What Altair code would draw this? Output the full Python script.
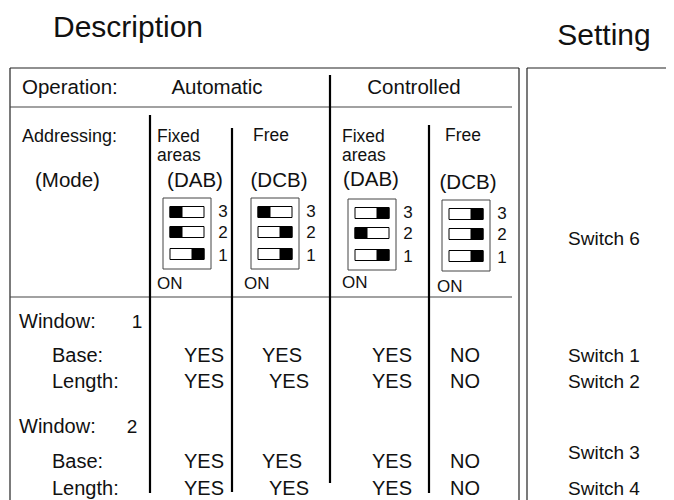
import altair as alt
import pandas as pd

# ---------------- content ----------------
TITLES = ["Description", "Setting"]
OPERATION_LABEL = "Operation:"
OPERATIONS = ["Automatic", "Controlled"]
ADDRESSING_LABEL = "Addressing:"
MODE_LABEL = "(Mode)"
ADDRESSING = ["Fixed areas", "Free", "Fixed areas", "Free"]
MODES = ["(DAB)", "(DCB)", "(DAB)", "(DCB)"]
SWITCH_NUMBERS = [3, 2, 1]
SWITCH_RIGHT = [[0, 0, 1], [0, 1, 1], [1, 0, 1], [1, 1, 1]]  # 1 = slider on right
ON_LABEL = "ON"
SWITCH6 = "Switch 6"
WINDOW_LABEL = "Window:"
WINDOWS = [1, 2]
ROW_LABELS = ["Base:", "Length:", "Base:", "Length:"]
VALUES = [
    ["YES", "YES", "YES", "NO"],
    ["YES", "YES", "YES", "NO"],
    ["YES", "YES", "YES", "NO"],
    ["YES", "YES", "YES", "NO"],
]
SETTINGS = ["Switch 1", "Switch 2", "Switch 3", "Switch 4"]

# ---------------- layout ----------------
W, H, M = 658, 492, 8
FONT = "Liberation Sans"
xs = alt.Scale(domain=[M, M + W], range=[0, W], nice=False, zero=False)
ys = alt.Scale(domain=[M, M + H], range=[0, H], nice=False, zero=False)

BOX_TOP = 68
BOTTOM = 505
LEFT, LEFT_R, RIGHT_L, RIGHT_R = 10, 519, 527, 690
SEP_END = 512
OP_Y, OP_LINE = 88, 107
HEAD_LINE = 297
COL_LINES = [(150, 115, 493), (232, 128, 492), (330, 75, 483), (429, 125, 493)]

lines = [
    (LEFT, LEFT_R, BOX_TOP, BOX_TOP, 1.2, "#222"),
    (RIGHT_L, RIGHT_R, BOX_TOP, BOX_TOP, 1.2, "#222"),
    (LEFT, LEFT, BOX_TOP, BOTTOM, 1.2, "#222"),
    (LEFT_R, LEFT_R, BOX_TOP, BOTTOM, 1.2, "#222"),
    (RIGHT_L, RIGHT_L, BOX_TOP, BOTTOM, 1.2, "#222"),
    (LEFT, SEP_END, OP_LINE, OP_LINE, 1.2, "#444"),
    (LEFT, SEP_END, HEAD_LINE, HEAD_LINE, 1.2, "#444"),
]
for cx, y1, y2 in COL_LINES:
    lines.append((cx, cx, y1, y2, 2.2, "#000"))
lines_df = pd.DataFrame(lines, columns=["x", "x2", "y", "y2", "w", "c"])

# switch blocks
BOX_X = [163, 251, 348, 442]
BOX_TOPS = [198, 198, 199, 200]
BOX_W, BOX_H = 48, 71
TOG_DX, TOG_W, TOG_H, KNOB_W = 7, 34, 11, 12
TOG_DY = [14, 34, 56]
NUM_DY = [14, 35, 58]
ON_X = [157, 244, 342, 437]
ON_Y = [284, 284, 283, 287]

rects = []
texts_left, texts_center = [], []
for i, (bx, bt) in enumerate(zip(BOX_X, BOX_TOPS)):
    rects.append((bx, bx + BOX_W, bt, bt + BOX_H, "#ffffff", "#444"))
    for k, num in enumerate(SWITCH_NUMBERS):
        cy = bt + TOG_DY[k]
        tx = bx + TOG_DX
        rects.append((tx, tx + TOG_W, cy - TOG_H / 2, cy + TOG_H / 2, "#ffffff", "#000"))
        if SWITCH_RIGHT[i][k]:
            rects.append((tx + TOG_W - KNOB_W, tx + TOG_W, cy - TOG_H / 2, cy + TOG_H / 2, "#000", "#000"))
        else:
            rects.append((tx, tx + KNOB_W, cy - TOG_H / 2, cy + TOG_H / 2, "#000", "#000"))
        texts_center.append((bx + BOX_W + 12, bt + NUM_DY[k], str(num), 17))
    texts_left.append((ON_X[i], ON_Y[i], ON_LABEL, 17))
rects_df = pd.DataFrame(rects, columns=["x", "x2", "y", "y2", "f", "s"])

# titles
texts_center.append((128, 28, TITLES[0], 30))
texts_center.append((604, 36, TITLES[1], 30))

# header rows
texts_left.append((22, OP_Y, OPERATION_LABEL, 20.5))
texts_center.append((217, OP_Y, OPERATIONS[0], 20.5))
texts_center.append((414, OP_Y, OPERATIONS[1], 20.5))
texts_left.append((22, 137, ADDRESSING_LABEL, 18))
texts_left.append((35, 181, MODE_LABEL, 20.5))

ADDR_X = [157, 253, 342, 445]
ADDR_Y = [137, 136, 137, 136]
MODE_X = [195, 279, 371, 468]
MODE_Y = [181, 181, 180, 183]
for i, a in enumerate(ADDRESSING):
    for j, part in enumerate(a.split(" ")):
        texts_left.append((ADDR_X[i], ADDR_Y[i] + 19 * j, part, 17.5))
    texts_center.append((MODE_X[i], MODE_Y[i], MODES[i], 20.5))

texts_center.append((604, 239, SWITCH6, 19))

# body rows
WIN_Y = [322, 427]
WIN_NUM_X = [137, 132]
for w, wy, wx in zip(WINDOWS, WIN_Y, WIN_NUM_X):
    texts_left.append((19, wy, WINDOW_LABEL, 20))
    texts_center.append((wx, wy, str(w), 19))

ROW_Y = [356, 382, 462, 489]
SET_Y = [356, 382, 453, 489]
COL_CX = [[204, 282, 392, 465], [204, 289, 392, 465], [204, 282, 392, 465], [204, 289, 392, 465]]
for r, (lab, ry) in enumerate(zip(ROW_LABELS, ROW_Y)):
    texts_left.append((52, ry, lab, 20))
    for c, v in enumerate(VALUES[r]):
        texts_center.append((COL_CX[r][c], ry, v, 20))
    texts_center.append((604, SET_Y[r], SETTINGS[r], 19))

cols = ["x", "y", "t", "fs"]
X = lambda f="x": alt.X(f"{f}:Q", scale=xs, axis=None)
Y = lambda f="y": alt.Y(f"{f}:Q", scale=ys, axis=None)

rule_layer = alt.Chart(lines_df).mark_rule(strokeCap="butt").encode(
    x=X(), x2="x2:Q", y=Y(), y2="y2:Q",
    strokeWidth=alt.StrokeWidth("w:Q", scale=None),
    color=alt.Color("c:N", scale=None),
)
rect_layer = alt.Chart(rects_df).mark_rect(strokeWidth=1).encode(
    x=X(), x2="x2:Q", y=Y(), y2="y2:Q",
    fill=alt.Fill("f:N", scale=None),
    stroke=alt.Stroke("s:N", scale=None),
)


def text_layer(rows, align):
    return alt.Chart(pd.DataFrame(rows, columns=cols)).mark_text(
        align=align, baseline="middle", font=FONT, color="#111"
    ).encode(x=X(), y=Y(), text="t:N", size=alt.Size("fs:Q", scale=None))


chart = alt.layer(
    rule_layer,
    rect_layer,
    text_layer(texts_left, "left"),
    text_layer(texts_center, "center"),
).properties(
    width=W, height=H, padding=0, autosize=alt.AutoSizeParams(type="none")
).configure_view(stroke=None)

chart.save("out.html", embed_options={"renderer": "svg", "actions": False})
